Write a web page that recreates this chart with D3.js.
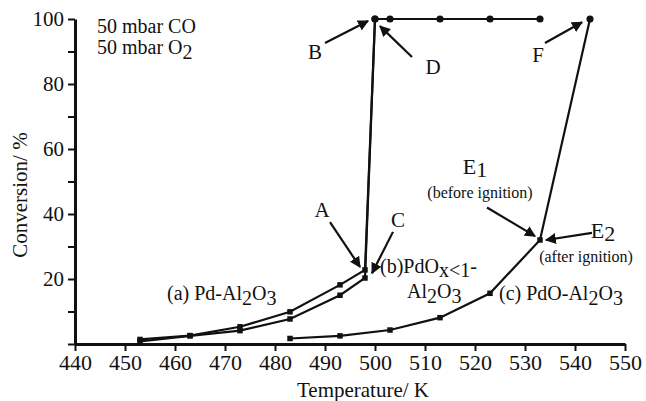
<!DOCTYPE html>
<meta charset="utf-8">
<title>CO oxidation light-off</title>
<script src="https://d3js.org/d3.v7.min.js"></script>
<style>
  body { margin: 0; background: #fff; }
  text { font-family: "Liberation Serif", "Times New Roman", serif; fill: #111; }
</style>
<body>
<svg id="chart" width="646" height="401"></svg>
<script>
// data
const tempA = [453, 463, 473, 483, 493, 498, 500];
const convA = [1.4, 2.6, 5.3, 9.9, 18.2, 22.8, 100];

const tempB = [453, 463, 473, 483, 493, 498, 500, 503, 513, 523, 533];
const convB = [0.8, 2.5, 4.1, 7.7, 15.0, 20.3, 100, 100, 100, 100, 100];

const tempC = [483, 493, 503, 513, 523, 533, 543];
const convC = [1.7, 2.5, 4.3, 8.1, 15.6, 32, 100];

const xTicks = [440, 450, 460, 470, 480, 490, 500, 510, 520, 530, 540, 550];
const yTicks = [0, 10, 20, 30, 40, 50, 60, 70, 80, 90, 100];

const svg = d3.select("#chart");

const x = d3.scaleLinear().domain([440, 550]).range([75, 625]);
const y = d3.scaleLinear().domain([0, 100]).range([344, 19]);

// arrowhead
svg.append("defs").append("marker")
    .attr("id", "arr")
    .attr("viewBox", "0 0 10 10")
    .attr("refX", 9).attr("refY", 5)
    .attr("markerWidth", 5).attr("markerHeight", 5)
    .attr("markerUnits", "strokeWidth")
    .attr("orient", "auto")
  .append("path")
    .attr("d", "M0,0 L10,5 L0,10 z")
    .attr("fill", "#111");

// axes
let xAxis = d3.axisBottom(x).tickValues(xTicks).tickSize(7).tickSizeOuter(0).tickPadding(3)
let gx = svg.append("g").attr("transform", "translate(0," + y(0) + ")").call(xAxis)
gx.select(".domain").attr("stroke-width", 3).attr("stroke", "#111")
gx.selectAll(".tick line").attr("stroke-width", 2).attr("stroke", "#111")
gx.selectAll("text").style("font-size", "22px").style("font-family", "Liberation Serif")

let yAxis = d3.axisLeft(y).tickValues(yTicks).tickSize(7).tickSizeOuter(0).tickPadding(4)
    .tickFormat(d => (d > 0 && d % 20 === 0) ? d : "")
let gy = svg.append("g").attr("transform", "translate(" + x(440) + ",0)").call(yAxis)
gy.select(".domain").attr("stroke-width", 3).attr("stroke", "#111")
gy.selectAll(".tick line").attr("stroke-width", 2).attr("stroke", "#111")
gy.selectAll("text").style("font-size", "21px").style("font-family", "Liberation Serif")

// axis titles
svg.append("text")
    .attr("x", 363).attr("y", 397)
    .attr("text-anchor", "middle")
    .style("font-size", "21px")
    .text("Temperature/ K")

svg.append("text")
    .attr("transform", "translate(27,195) rotate(-90)")
    .attr("text-anchor", "middle")
    .style("font-size", "21px")
    .text("Conversion/ %")

// series
const series = [
    { t: tempA, c: convA },
    { t: tempB, c: convB },
    { t: tempC, c: convC }
];

const line = d3.line().x(d => x(d[0])).y(d => y(d[1]));
const sym = d3.symbol().type(d3.symbolSquare).size(30);

series.forEach(s => {
    const pts = s.t.map((t, i) => [t, s.c[i]]);
    svg.append("path")
        .datum(pts)
        .attr("d", line)
        .attr("fill", "none")
        .attr("stroke", "#111")
        .attr("stroke-width", 2.2);
    svg.selectAll(null)
        .data(pts)
        .enter().append("path")
        .attr("d", d => d[1] >= 100 ? d3.symbol().type(d3.symbolCircle).size(40)() : sym())
        .attr("transform", d => "translate(" + x(d[0]) + "," + y(d[1]) + ")")
        .attr("fill", "#111");
});

// arrows (data-space start/end)
const arrows = [
    [[490, 92.6], [498.6, 99.4]],   // B
    [[507.4, 88.3], [501, 97.8]],   // D
    [[534, 92.6], [541.4, 99]],     // F
    [[522.4, 42], [532, 33.2]],     // E1
    [[543.4, 34.2], [534.2, 32]],   // E2
    [[491, 37.5], [497, 23.7]],     // A
    [[503.6, 34.5], [499.4, 21.8]]  // C
];
arrows.forEach(a => {
    svg.append("line")
        .attr("x1", x(a[0][0])).attr("y1", y(a[0][1]))
        .attr("x2", x(a[1][0])).attr("y2", y(a[1][1]))
        .attr("stroke", "#111")
        .attr("stroke-width", 2.2)
        .attr("marker-end", "url(#arr)");
});

// letter labels
const letters = [
    ["B", 315, 59], ["D", 433, 74], ["F", 538, 62],
    ["A", 322, 217], ["C", 398, 227]
];
letters.forEach(l => {
    svg.append("text").attr("x", l[1]).attr("y", l[2])
        .attr("text-anchor", "middle").style("font-size", "21px").text(l[0]);
});

// text with subscripts: parts = [[text, isSub], ...]
function rich(px, py, parts, size, anchor, shift) {
    const sh = size * (shift || 0.26);
    const t = svg.append("text").attr("x", px).attr("y", py)
        .attr("text-anchor", anchor || "start").style("font-size", size + "px");
    let down = false;
    parts.forEach(p => {
        let dy = 0;
        if (p[1] && !down) dy = sh;
        if (!p[1] && down) dy = -sh;
        down = p[1];
        t.append("tspan").attr("dy", dy).text(p[0]);
    });
    return t;
}

rich(97, 33, [["50 mbar CO", false]], 20);
rich(97, 54, [["50 mbar O", false], ["2", true]], 20);

rich(167, 300, [["(a) Pd-Al", false], ["2", true], ["O", false], ["3", true]], 20);
rich(380, 273, [["(b)PdO", false], ["x<1", true], ["-", false]], 20, "start", 0.22);
rich(407, 298, [["Al", false], ["2", true], ["O", false], ["3", true]], 20);
rich(499, 300, [["(c) PdO-Al", false], ["2", true], ["O", false], ["3", true]], 20);

rich(475, 174, [["E", false], ["1", true]], 22, "middle", 0.15);
rich(480, 198, [["(before ignition)", false]], 16, "middle");
rich(603, 238, [["E", false], ["2", true]], 22, "middle", 0.15);
rich(586, 262, [["(after ignition)", false]], 16, "middle");
</script>
</body>
